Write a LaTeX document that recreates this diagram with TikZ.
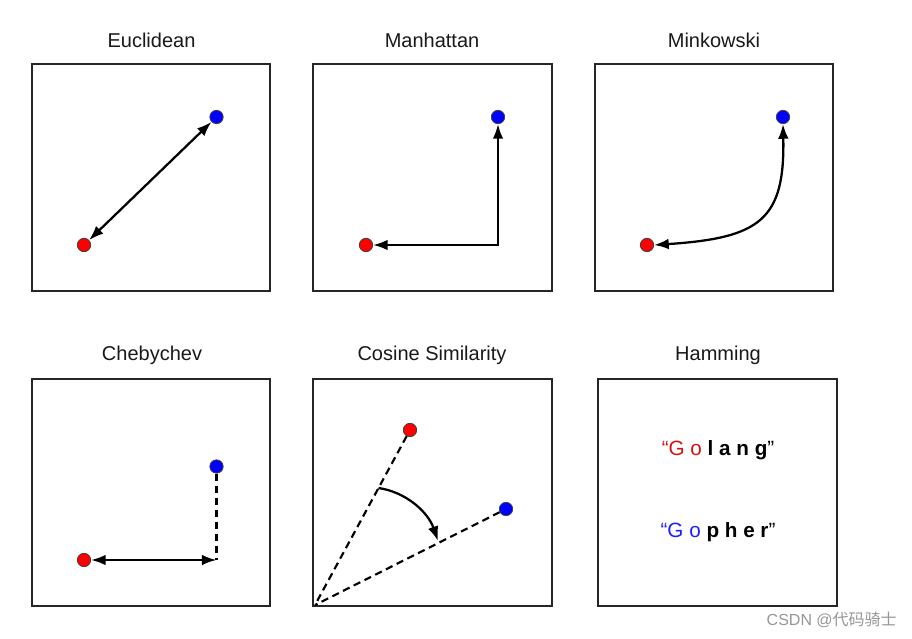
\documentclass[tikz,border=0pt]{standalone}
\usepackage{fontspec}
\setmainfont{Liberation Sans}
\newfontfamily\cjkfont{Noto Sans CJK SC}
\usetikzlibrary{arrows.meta}
\definecolor{hred}{RGB}{210,20,20}
\definecolor{hblue}{RGB}{30,30,255}
\definecolor{wmgray}{RGB}{150,150,150}
\definecolor{dotred}{RGB}{255,0,0}
\definecolor{dotblue}{RGB}{0,0,255}
\begin{document}
\begin{tikzpicture}[x=0.75pt,y=-0.75pt,
  panel/.style={line width=1.8pt, draw=black!85},
  title/.style={font=\fontsize{15}{18}\selectfont, text=black!90, inner sep=0pt},
  dotbase/.style={circle, draw=black!75, line width=0.6pt, minimum size=10pt, inner sep=0pt},
  rdot/.style={dotbase, fill=dotred},
  bdot/.style={dotbase, fill=dotblue},
  conn/.style={line width=1.7pt},
  both/.style={conn, arrows={Latex[length=11pt,width=8pt]-Latex[length=11pt,width=8pt]}},
  fwd/.style={conn, arrows={-Latex[length=11pt,width=8pt]}},
  dashline/.style={line width=1.6pt, dash pattern=on 5.5pt off 3.5pt},
  ham/.style={font=\fontsize{15.5}{18}\selectfont, inner sep=0pt},
]
\useasboundingbox (0,0) rectangle (912,638);
\fill[white] (0,0) rectangle (912,638);

% panels
\draw[panel] (32,64) rectangle (270,291);
\draw[panel] (313,64) rectangle (552,291);
\draw[panel] (595,64) rectangle (833,291);
\draw[panel] (32,379) rectangle (270,606);
\draw[panel] (313,379) rectangle (552,606);
\draw[panel] (598,379) rectangle (837,606);

% titles
\node[title] (t1) at (151.5,40) {Euclidean};
\node[title] (t2) at (432,40) {Manhattan};
\node[title] (t3) at (714,40) {Minkowski};
\node[title] (t4) at (152,355) {Chebychev};
\node[title] (t5) at (432,355) {Cosine Similarity};
\node[title] (t6) at (718,355) {Hamming};

% Euclidean
\node[rdot] (e1) at (84,245) {};
\node[bdot] (e2) at (216.5,117) {};
\draw[both] (e1) -- (e2);

% Manhattan
\node[rdot] (m1) at (366,245) {};
\node[bdot] (m2) at (498,117) {};
\coordinate (mc) at (498,245);
\draw[both] (m1) -- (mc) -- (m2);

% Minkowski
\node[rdot] (k1) at (647,245) {};
\node[bdot] (k2) at (783,117) {};
\draw[both] (k1.east) .. controls (760,238) and (785,220) .. (k2.south);

% Chebychev
\node[rdot] (c1) at (84,560) {};
\node[bdot] (c2) at (216.5,466.5) {};
\coordinate (cc) at (216.5,560);
\draw[dashline] (c2) -- (cc);
\draw[both] (c1) -- (cc);

% Cosine similarity
\coordinate (o) at (315,605);
\node[rdot] (s1) at (410,430) {};
\node[bdot] (s2) at (506,509) {};
\draw[dashline] (s1) -- (o);
\draw[dashline] (s2) -- (o);
\coordinate (a1) at (378.5,488);
\coordinate (a2) at (438,541);
\draw[fwd] (a1) .. controls (406,492) and (428,512) .. (a2);

% Hamming
\node[ham] (h1) at (718,450) {{\color{hred}“G o} \textbf{l a n g}”};
\node[ham] (h2) at (718,532) {{\color{hblue}“G o} \textbf{p h e r}”};

% watermark
\node[anchor=east, text=wmgray, font=\fontsize{12}{14}\selectfont, inner sep=0pt] (wm) at (897,620) {CSDN @{\cjkfont 代码骑士}};
\end{tikzpicture}
\end{document}
